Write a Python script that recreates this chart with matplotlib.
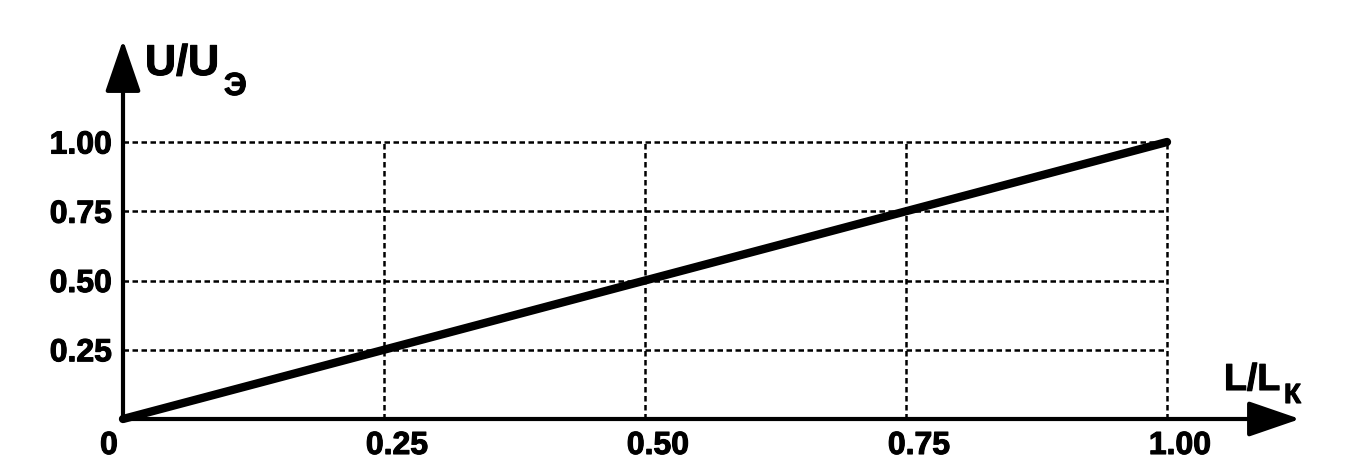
import matplotlib.pyplot as plt
import matplotlib.patheffects as pe
from matplotlib.patches import FancyArrowPatch

# data
x_ratio = [0.0, 1.0]          # L/Lк
u_ratio = [0.0, 1.0]          # U/Uэ
grid_vals = [0.25, 0.50, 0.75, 1.00]
y_tick_labels = ["0.25", "0.50", "0.75", "1.00"]
x_tick_pos = [0.0, 0.25, 0.50, 0.75, 1.00]
x_tick_labels = ["0", "0.25", "0.50", "0.75", "1.00"]

plt.rcParams["font.family"] = ["Liberation Sans", "DejaVu Sans"]
plt.rcParams["font.weight"] = "bold"

W, H = 1352, 471
X0, X1 = 123, 1167   # pixel of x=0 and x=1
Y0, Y1 = 419, 142    # pixel row of y=0 and y=1
sx, sy = X1 - X0, Y0 - Y1

fig = plt.figure(figsize=(W / 100, H / 100), dpi=100)
ax = fig.add_axes([0, 0, 1, 1])
ax.set_xlim(-X0 / sx, (W - X0) / sx)
ax.set_ylim(-(H - Y0) / sy, Y0 / sy)
ax.axis("off")

dash = (0, (2.2, 1.4))
for v in grid_vals:
    ax.plot([0, max(x_ratio)], [v, v], color="black", lw=1.8, ls=dash, zorder=1)
    ax.plot([v, v], [0, max(u_ratio)], color="black", lw=1.8, ls=dash, zorder=1)

# axes with arrows
for tip in [((1300 - X0) / sx, 0), (0, (Y0 - 40) / sy)]:
    arr = FancyArrowPatch((0, 0), tip, arrowstyle="-|>,head_length=32,head_width=11",
                          mutation_scale=1, lw=3, color="black", shrinkA=0, shrinkB=0,
                          zorder=3)
    ax.add_patch(arr)

ax.plot(x_ratio, u_ratio, color="black", lw=6, solid_capstyle="round", zorder=4)

bold = [pe.withStroke(linewidth=0.8, foreground="black")]

for v, lab in zip(grid_vals, y_tick_labels):
    ax.annotate(lab, (0, v), xytext=(-11, 0), textcoords="offset pixels",
                ha="right", va="center_baseline", fontsize=23, fontweight="bold",
                path_effects=bold)

for v, lab in zip(x_tick_pos, x_tick_labels):
    dx = -14 if v == 0 else 13
    ax.annotate(lab, (v, 0), xytext=(dx, -12), textcoords="offset pixels",
                ha="center", va="top", fontsize=23, fontweight="bold",
                path_effects=bold)

fig.text(145 / W, 1 - 75 / H, "U/U", fontsize=31, fontweight="bold", va="baseline",
         path_effects=bold)
fig.text(224 / W, 1 - 95 / H, "Э", fontsize=23, fontweight="bold", va="baseline",
         path_effects=bold)
fig.text(1224 / W, 1 - 390 / H, "L/L", fontsize=27, fontweight="bold", va="baseline",
         path_effects=bold)
fig.text(1284 / W, 1 - 403 / H, "К", fontsize=20, fontweight="bold", va="baseline",
         path_effects=bold)

fig.savefig("out.png", dpi=100)
